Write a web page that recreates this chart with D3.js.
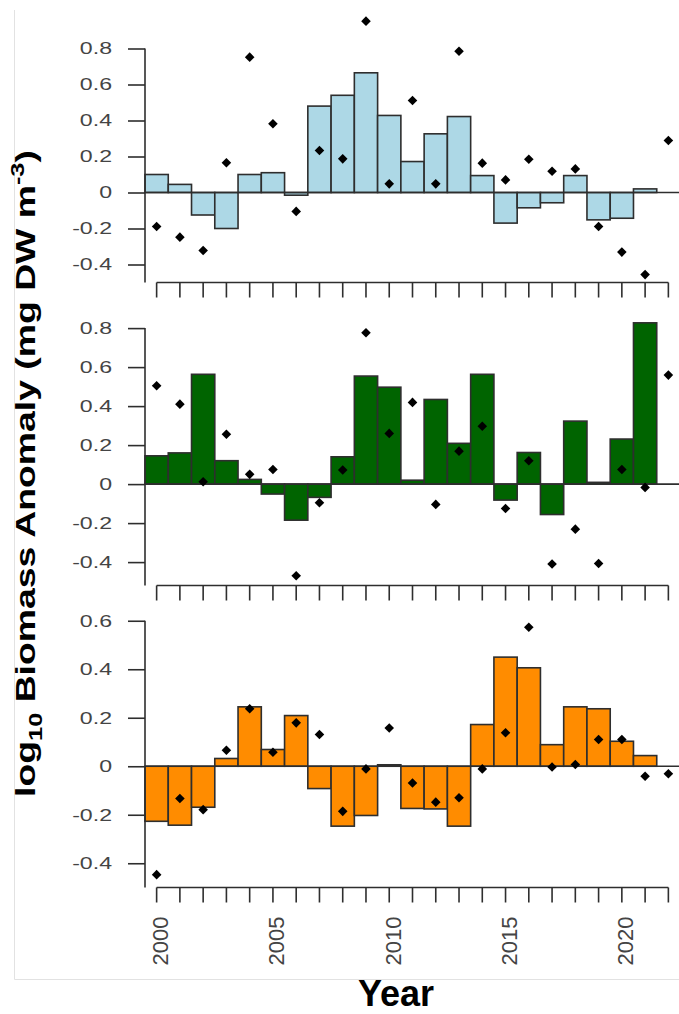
<!DOCTYPE html>
<html>
<head>
<meta charset="utf-8">
<script src="https://cdn.jsdelivr.net/npm/d3@7"></script>
<style>
  html, body { margin: 0; padding: 0; background: #fff; }
  svg { display: block; }
  text { font-family: "Liberation Sans", Arial, sans-serif; }
</style>
</head>
<body>
<div id="root"></div>
<script>
// Data (log10 biomass anomaly per year)
const years = [2000, 2001, 2002, 2003, 2004, 2005, 2006, 2007, 2008, 2009, 2010, 2011,
  2012, 2013, 2014, 2015, 2016, 2017, 2018, 2019, 2020, 2021, 2022];
const yearLabels = [2000, 2005, 2010, 2015, 2020];

// top panel (light blue)
const blueBars = [0.10, 0.045, -0.125, -0.20, 0.10, 0.11, -0.015, 0.48, 0.54, 0.665, 0.428, 0.172,
  0.326, 0.422, 0.094, -0.17, -0.085, -0.057, 0.094, -0.152, -0.143, 0.02, null];
const bluePoints = [-0.189, -0.248, -0.322, 0.165, 0.752, 0.382, -0.105, 0.233, 0.187, 0.952, 0.048, 0.511,
  0.048, 0.785, 0.163, 0.07, 0.185, 0.118, 0.131, -0.189, -0.331, -0.456, 0.289];
const blueTicks = [0.8, 0.6, 0.4, 0.2, 0, -0.2, -0.4];

// middle panel (dark green)
const greenBars = [0.145, 0.16, 0.563, 0.12, 0.024, -0.051, -0.185, -0.068, 0.14, 0.554, 0.497, 0.02,
  0.434, 0.209, 0.563, -0.082, 0.162, -0.156, 0.323, 0.009, 0.231, 0.827, null];
const greenPoints = [0.504, 0.41, 0.012, 0.256, 0.05, 0.075, -0.47, -0.096, 0.072, 0.776, 0.26, 0.419,
  -0.104, 0.169, 0.297, -0.125, 0.12, -0.41, -0.231, -0.407, 0.075, -0.017, 0.559];
const greenTicks = [0.8, 0.6, 0.4, 0.2, 0, -0.2, -0.4];

// bottom panel (orange)
const orangeBars = [-0.227, -0.243, -0.169, 0.032, 0.245, 0.069, 0.209, -0.092, -0.247, -0.203, 0.006, -0.174,
  -0.176, -0.247, 0.172, 0.45, 0.406, 0.089, 0.245, 0.237, 0.103, 0.044, null];
const orangePoints = [-0.447, -0.133, -0.179, 0.066, 0.237, 0.058, 0.179, 0.131, -0.186, -0.011, 0.158, -0.069,
  -0.148, -0.13, -0.011, 0.138, 0.573, -0.003, 0.007, 0.11, 0.11, -0.041, -0.031];
const orangeTicks = [0.6, 0.4, 0.2, 0, -0.2, -0.4];

const width = 679;
const height = 1014;

const panels = [
  { bars: blueBars, points: bluePoints, ticks: blueTicks, fill: "#add8e6",
    domain: [-0.5, 1.0], range: [282.5, 12.5], labels: false },
  { bars: greenBars, points: greenPoints, ticks: greenTicks, fill: "#006400",
    domain: [-0.52, 0.85], range: [585.5, 318.35], labels: false },
  { bars: orangeBars, points: orangePoints, ticks: orangeTicks, fill: "#ff8c00",
    domain: [-0.5, 0.6], range: [887.5, 620.75], labels: true }
];

const svg = d3.select("#root")
  .append("svg")
    .attr("width", width)
    .attr("height", height);

// faint frame of the original figure
svg.append("path")
  .attr("d", "M14.5,10 L14.5,979.5 L679,979.5")
  .attr("fill", "none")
  .attr("stroke", "#e2e2e2")
  .attr("stroke-width", 1);

const xScale = d3.scaleBand()
  .domain(years)
  .range([145, 680])
  .padding(0);

const axisX0 = 145;
const ink = "#2e2e2e";

panels.forEach(p => {
  const yScale = d3.scaleLinear().domain(p.domain).range(p.range);
  const g = svg.append("g");
  const rows = years.map((y, i) => ({ year: y, bar: p.bars[i], point: p.points[i] }));

  // bars
  g.selectAll("rect.bar")
    .data(rows.filter(d => d.bar !== null))
    .enter()
    .append("rect")
      .attr("class", "bar")
      .attr("x", d => xScale(d.year))
      .attr("width", xScale.bandwidth())
      .attr("y", d => yScale(Math.max(0, d.bar)))
      .attr("height", d => Math.abs(yScale(d.bar) - yScale(0)))
      .attr("fill", p.fill)
      .attr("stroke", ink)
      .attr("stroke-width", 1.6);

  // zero line
  g.append("line")
    .attr("x1", axisX0).attr("x2", width)
    .attr("y1", yScale(0)).attr("y2", yScale(0))
    .attr("stroke", ink)
    .attr("stroke-width", 1.6);

  // points (filled diamonds)
  g.selectAll("path.pt")
    .data(rows)
    .enter()
    .append("path")
      .attr("class", "pt")
      .attr("d", d3.symbol(d3.symbolSquare).size(46))
      .attr("transform", d => `translate(${xScale(d.year) + xScale.bandwidth() / 2},${yScale(d.point)}) rotate(45)`)
      .attr("fill", "#000");

  // y axis
  const yAxis = g.append("g")
    .attr("transform", `translate(${axisX0},0)`)
    .call(d3.axisLeft(yScale)
      .tickValues(p.ticks)
      .tickSize(17)
      .tickPadding(16)
      .tickFormat(d => String(+d.toFixed(1))));
  yAxis.select(".domain").remove();
  yAxis.selectAll(".tick line").attr("stroke", ink).attr("stroke-width", 1.6);
  yAxis.selectAll(".tick text")
    .attr("x", 0)
    .attr("transform", "translate(-33,0) scale(1.36,1)")
    .attr("font-size", 17)
    .attr("fill", "#444");
  const bottom = yScale(p.domain[0]);
  yAxis.append("line")
    .attr("x1", 0).attr("x2", 0)
    .attr("y1", yScale(p.ticks[0])).attr("y2", bottom)
    .attr("stroke", ink)
    .attr("stroke-width", 1.6);

  // x axis (ticks at bar centres, line from first to last tick)
  const band = xScale.bandwidth() / 2;
  const xAxis = g.append("g")
    .attr("transform", `translate(0,${bottom})`);
  xAxis.append("line")
    .attr("x1", xScale(years[0]) + band)
    .attr("x2", xScale(years[years.length - 1]) + band)
    .attr("stroke", ink)
    .attr("stroke-width", 1.6);
  xAxis.selectAll("line.tk")
    .data(years)
    .enter()
    .append("line")
      .attr("class", "tk")
      .attr("x1", d => xScale(d) + band).attr("x2", d => xScale(d) + band)
      .attr("y1", 0).attr("y2", 15)
      .attr("stroke", ink)
      .attr("stroke-width", 1.6);

  if (p.labels) {
    xAxis.selectAll("text.yr")
      .data(yearLabels)
      .enter()
      .append("text")
        .attr("class", "yr")
        .attr("transform", d => `translate(${xScale(d) + band + 4},29) rotate(-90)`)
        .attr("text-anchor", "end")
        .attr("dominant-baseline", "central")
        .attr("font-size", 22)
        .attr("fill", "#444")
        .text(d => d);
  }
});

// axis titles
const yTitle = svg.append("text")
  .attr("text-anchor", "middle")
  .attr("font-size", 28)
  .attr("font-weight", "bold")
  .attr("fill", "#000");
yTitle.append("tspan").text("log");
yTitle.append("tspan").attr("font-size", 19).attr("dy", 7).text("10");
yTitle.append("tspan").attr("dy", -7).text(" Biomass Anomaly (mg DW m");
yTitle.append("tspan").attr("font-size", 19).attr("dy", -11).text("-3");
yTitle.append("tspan").attr("dy", 11).text(")");
const yLen = yTitle.node().getComputedTextLength();
yTitle.attr("transform", `translate(35,473.5) rotate(-90) scale(${647 / yLen},1)`);

svg.append("text")
  .attr("x", 396)
  .attr("y", 1006)
  .attr("text-anchor", "middle")
  .attr("font-size", 36)
  .attr("font-weight", "bold")
  .attr("fill", "#000")
  .text("Year");
</script>
</body>
</html>
